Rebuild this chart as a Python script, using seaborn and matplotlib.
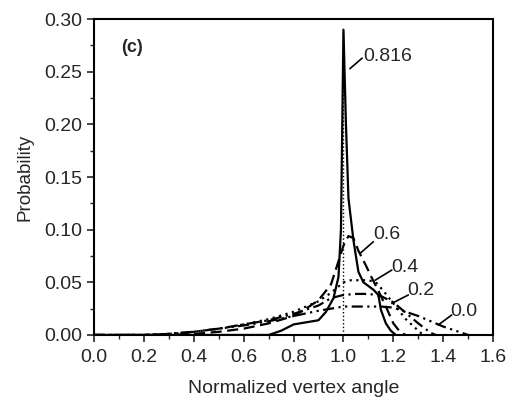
import pandas as pd
import matplotlib.pyplot as plt
import seaborn as sns

# --- dados (c) ---
x_00 = [0.0, 0.2, 0.3, 0.4, 0.5, 0.6, 0.7, 0.8, 0.9, 0.95, 1.0, 1.05, 1.1, 1.15, 1.2, 1.25, 1.3, 1.35, 1.4, 1.45, 1.5]
y_00 = [0.0, 0.0, 0.001, 0.003, 0.006, 0.009, 0.013, 0.018, 0.023, 0.025, 0.027, 0.027, 0.027, 0.027, 0.026, 0.022, 0.018, 0.013, 0.008, 0.004, 0.0]

x_02 = [0.0, 0.2, 0.3, 0.4, 0.5, 0.6, 0.7, 0.8, 0.9, 0.95, 1.0, 1.05, 1.1, 1.13, 1.15, 1.2, 1.25, 1.3, 1.35, 1.37]
y_02 = [0.0, 0.0, 0.001, 0.003, 0.006, 0.010, 0.014, 0.020, 0.028, 0.035, 0.038, 0.039, 0.039, 0.038, 0.037, 0.031, 0.021, 0.011, 0.002, 0.0]

x_04 = [0.0, 0.2, 0.3, 0.4, 0.5, 0.6, 0.7, 0.8, 0.9, 0.95, 1.0, 1.03, 1.07, 1.1, 1.13, 1.16, 1.2, 1.25, 1.3, 1.32]
y_04 = [0.0, 0.0, 0.001, 0.003, 0.006, 0.010, 0.015, 0.022, 0.032, 0.040, 0.050, 0.052, 0.052, 0.052, 0.050, 0.042, 0.030, 0.015, 0.004, 0.0]

x_06 = [0.0, 0.3, 0.4, 0.5, 0.6, 0.7, 0.8, 0.85, 0.9, 0.95, 0.98, 1.0, 1.02, 1.04, 1.06, 1.09, 1.11, 1.14, 1.17, 1.2, 1.23, 1.25]
y_06 = [0.0, 0.0, 0.001, 0.003, 0.006, 0.011, 0.018, 0.025, 0.033, 0.048, 0.070, 0.085, 0.094, 0.092, 0.080, 0.066, 0.056, 0.042, 0.027, 0.011, 0.002, 0.0]

x_0816 = [0.0, 0.7, 0.75, 0.8, 0.85, 0.9, 0.93, 0.96, 0.98, 0.99, 1.0, 1.01, 1.02, 1.04, 1.06, 1.08, 1.12, 1.14, 1.15, 1.17, 1.19, 1.21]
y_0816 = [0.0, 0.0, 0.004, 0.010, 0.012, 0.014, 0.022, 0.035, 0.055, 0.10, 0.29, 0.20, 0.13, 0.09, 0.060, 0.050, 0.043, 0.038, 0.024, 0.011, 0.004, 0.0]

linha_x = [1.0, 1.0]
linha_y = [0.0, 0.29]

series = {'0.0': (x_00, y_00), '0.2': (x_02, y_02), '0.4': (x_04, y_04),
          '0.6': (x_06, y_06), '0.816': (x_0816, y_0816)}

# rotulos: texto, posicao do texto, inicio e fim da seta
rotulos = [
    ('0.816', (1.08, 0.265), (1.075, 0.263), (1.026, 0.253)),
    ('0.6', (1.12, 0.095), (1.12, 0.0886), (1.067, 0.0776)),
    ('0.4', (1.19, 0.064), (1.194, 0.0617), (1.127, 0.052)),
    ('0.2', (1.255, 0.0427), (1.26, 0.038), (1.194, 0.030)),
    ('0.0', (1.43, 0.022), (1.434, 0.019), (1.38, 0.0095)),
]

df = pd.concat([pd.DataFrame({'x': xs, 'y': ys, 'curva': nome}) for nome, (xs, ys) in series.items()],
               ignore_index=True)

sns.set_style('ticks')
plt.rcParams['font.family'] = ['Liberation Sans', 'DejaVu Sans']

fig = plt.figure(figsize=(5.11, 4.08), dpi=100)
ax = fig.add_axes([0.184, 0.179, 0.781, 0.774])

estilos = {'0.0': (5, 2, 1, 2, 1, 2), '0.2': (5, 2, 1, 2), '0.4': (1, 2),
           '0.6': (5, 2.5), '0.816': ''}
sns.lineplot(data=df, x='x', y='y', style='curva', dashes=estilos, color='black',
             linewidth=1.6, estimator=None, sort=False, legend=False, ax=ax)
ax.plot(linha_x, linha_y, color='black', linestyle=':', linewidth=1.0)

for texto, pos, ini, fim in rotulos:
    ax.text(pos[0], pos[1], texto, fontsize=14, va='center', ha='left')
    ax.plot([ini[0], fim[0]], [ini[1], fim[1]], color='black', linewidth=1.2)

ax.text(0.11, 0.273, '(c)', fontsize=13, fontweight='bold', va='center', ha='left')

ax.set_xlim(0.0, 1.6)
ax.set_ylim(0.0, 0.30)
ax.set_xticks([i * 0.2 for i in range(9)])
ax.set_xticks([i * 0.1 for i in range(17)], minor=True)
ax.set_yticks([i * 0.05 for i in range(7)])
ax.set_yticks([i * 0.025 for i in range(13)], minor=True)
ax.xaxis.set_major_formatter(plt.FuncFormatter(lambda v, p: f'{v:.1f}'))
ax.yaxis.set_major_formatter(plt.FuncFormatter(lambda v, p: f'{v:.2f}'))
ax.tick_params(which='major', length=5, width=1.2, labelsize=14, direction='out')
ax.tick_params(axis='x', which='major', pad=5)
ax.tick_params(which='minor', length=3, width=1.0, direction='out')
for s in ax.spines.values():
    s.set_linewidth(1.5)
    s.set_color('black')

ax.set_xlabel('Normalized vertex angle', fontsize=14, labelpad=10)
ax.set_ylabel('Probability', fontsize=13.5, labelpad=8)

plt.savefig('out.png', dpi=100)
plt.close()
